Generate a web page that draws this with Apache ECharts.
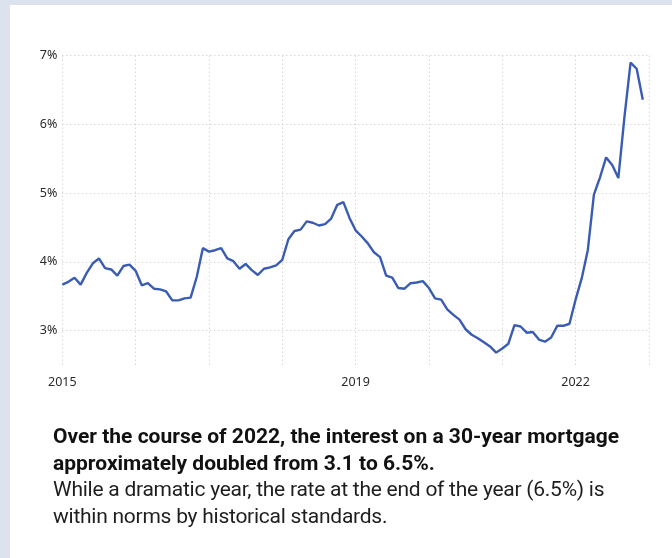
<!DOCTYPE html>
<html>
<head>
<meta charset="utf-8">
<script src="https://cdn.jsdelivr.net/npm/echarts@6/dist/echarts.min.js"></script>
<style>
  html, body { margin: 0; padding: 0; width: 672px; height: 558px; overflow: hidden; background: #dce3ef; }
  #card { position: absolute; left: 10px; top: 5px; right: 0; bottom: 0; background: #ffffff; }
  #chart { position: absolute; left: 0; top: 0; width: 672px; height: 558px; }
  #caption {
    position: absolute; left: 53px; top: 423px;
    font-family: Roboto, "Noto Sans", sans-serif; font-size: 21px; line-height: 26.5px;
    color: #1e1e1e; white-space: nowrap;
  }
  #caption b { font-weight: 700; color: #111; }
  #caption .plain { letter-spacing: -0.25px; }
</style>
</head>
<body>
<div id="card"></div>
<div id="chart"></div>
<div id="caption">
  <b>Over the course of 2022, the interest on a 30-year mortgage</b><br>
  <b>approximately doubled from 3.1 to 6.5%.</b><br>
  <span class="plain">While a dramatic year, the rate at the end of the year (6.5%) is</span><br>
  <span class="plain">within norms by historical standards.</span>
</div>
<script>
// Average 30-year fixed mortgage rate (%), monthly, Jan–Dec of each year
const rates2015 = [3.67, 3.71, 3.77, 3.67, 3.84, 3.98, 4.05, 3.91, 3.89, 3.80, 3.94, 3.96];
const rates2016 = [3.87, 3.66, 3.69, 3.61, 3.60, 3.57, 3.44, 3.44, 3.47, 3.48, 3.78, 4.20];
const rates2017 = [4.15, 4.17, 4.20, 4.05, 4.01, 3.90, 3.97, 3.88, 3.81, 3.90, 3.92, 3.95];
const rates2018 = [4.03, 4.33, 4.45, 4.47, 4.59, 4.57, 4.53, 4.55, 4.63, 4.83, 4.87, 4.64];
const rates2019 = [4.46, 4.37, 4.27, 4.14, 4.07, 3.80, 3.77, 3.62, 3.61, 3.69, 3.70, 3.72];
const rates2020 = [3.62, 3.47, 3.45, 3.31, 3.23, 3.16, 3.02, 2.94, 2.89, 2.83, 2.77, 2.68];
const rates2021 = [2.74, 2.81, 3.08, 3.06, 2.97, 2.98, 2.87, 2.84, 2.90, 3.07, 3.07, 3.10];
const rates2022 = [3.45, 3.76, 4.17, 4.98, 5.23, 5.52, 5.41, 5.22, 6.11, 6.90, 6.81, 6.36];

const years = [2015, 2016, 2017, 2018, 2019, 2020, 2021, 2022];
const labeledYears = ['2015', '2019', '2022'];
const yTicks = [3, 4, 5, 6, 7];

const rates = [].concat(rates2015, rates2016, rates2017, rates2018,
                        rates2019, rates2020, rates2021, rates2022);

// Month categories Jan 2015 .. Jan 2023 (axis runs one step past the last value)
const months = [];
years.forEach(y => {
  for (let m = 1; m <= 12; m++) months.push(y + '-' + String(m).padStart(2, '0'));
});
months.push('2023-01');

const gridColor = '#c4c4c4';
const gridDots = [1, 3];
const labelFont = { color: '#2a2a2a', fontSize: 12.5, fontFamily: '"Noto Sans", sans-serif' };

const chart = echarts.init(document.getElementById('chart'), null, { renderer: 'canvas' });
chart.setOption({
  animation: false,
  grid: { left: 62.3, right: 23.1, top: 55.7, bottom: 193 },
  xAxis: {
    type: 'category',
    data: months,
    boundaryGap: false,
    axisLine: { show: false },
    axisTick: { show: false },
    axisLabel: Object.assign({
      interval: (i, v) => v.endsWith('-01') && labeledYears.includes(v.slice(0, 4)),
      formatter: v => v.slice(0, 4),
      margin: 11
    }, labelFont),
    splitLine: {
      show: true,
      interval: (i, v) => v.endsWith('-01'),
      lineStyle: { type: gridDots, color: gridColor, width: 1 }
    }
  },
  yAxis: {
    type: 'value',
    min: 2.5,
    max: 7,
    interval: 0.5,
    axisLine: { show: false },
    axisTick: { show: false },
    axisLabel: Object.assign({
      formatter: v => (yTicks.includes(v) ? v + '%' : ''),
      margin: 5
    }, labelFont),
    splitLine: {
      show: true,
      // half-point lines are hidden; only whole percents are drawn
      lineStyle: { type: gridDots, color: ['rgba(0,0,0,0)', gridColor], width: 1 }
    }
  },
  series: [{
    type: 'line',
    data: rates,
    showSymbol: false,
    smooth: false,
    lineStyle: { color: '#3a5cb2', width: 2.4 },
    itemStyle: { color: '#3a5cb2' }
  }]
});
</script>
</body>
</html>
